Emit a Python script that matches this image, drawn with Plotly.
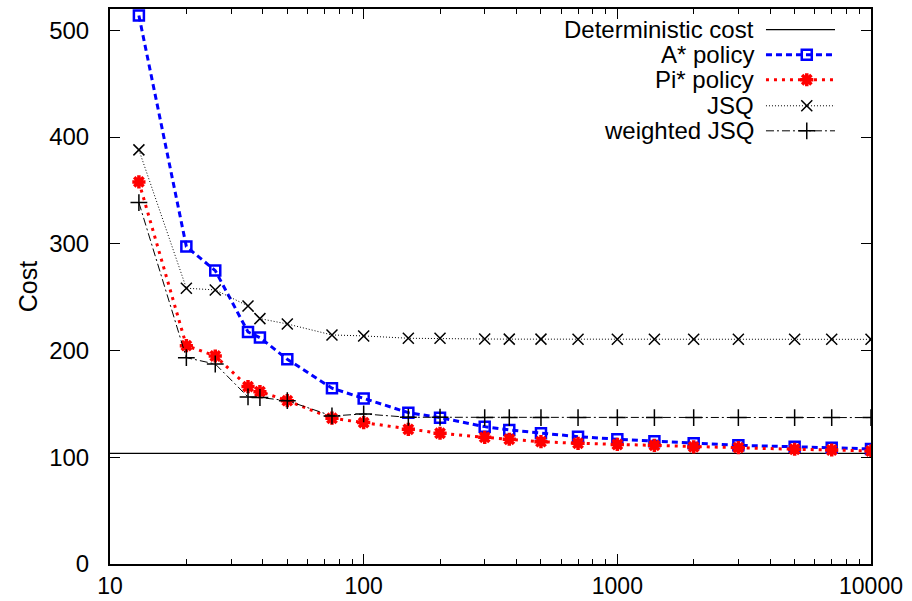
import plotly.graph_objects as go

# ---------------- data ----------------
x_vals = [13, 20, 26, 35, 39, 50, 75, 100, 150, 200, 300, 375, 500, 700,
          1000, 1400, 2000, 3000, 5000, 7000, 10000]

deterministic_cost = 103.7

a_star = [513.9, 297.4, 274.9, 217.4, 212.1, 191.8, 164.7, 155.0, 141.8, 137.1,
          128.7, 125.6, 122.5, 119.3, 116.9, 115.0, 113.1, 111.2, 109.9, 109.0, 107.8]

pi_star = [358.0, 204.6, 194.9, 166.2, 161.5, 153.0, 136.6, 132.5, 126.2, 122.5,
           118.7, 116.9, 114.6, 113.1, 112.0, 111.2, 109.7, 109.0, 107.5, 106.8, 105.9]

jsq = [388.0, 258.4, 256.8, 241.8, 229.9, 224.9, 214.6, 213.7, 211.5, 211.5,
       210.8, 210.7, 210.7, 210.5, 210.5, 210.5, 210.5, 210.5, 210.5, 210.5, 210.5]

weighted_jsq = [338.6, 193.3, 187.4, 156.5, 156.0, 153.0, 138.7, 140.6, 137.5, 137.5,
                137.2, 137.2, 137.2, 137.2, 137.2, 137.2, 137.2, 137.2, 137.2, 137.2, 137.2]

legend_names = ["Deterministic cost", "A* policy", "Pi* policy", "JSQ", "weighted JSQ"]

y_ticks = [0, 100, 200, 300, 400, 500]
x_ticks = [10, 100, 1000, 10000]
x_minor = [m * d for d in (10, 100, 1000) for m in range(2, 10)]

FONT = "Liberation Sans, Arial, Helvetica, sans-serif"

styles = [
    dict(line=dict(color="black", width=1.2), marker=None),
    dict(line=dict(color="#0000ff", width=3, dash="6px,4px"),
         marker=dict(symbol="square-open", size=10, color="#0000ff",
                     line=dict(color="#0000ff", width=2.5))),
    dict(line=dict(color="#ff0000", width=3, dash="3px,5px"),
         marker=dict(symbol="asterisk-open", size=11, color="#ff0000",
                     line=dict(color="#ff0000", width=3.5))),
    dict(line=dict(color="black", width=1, dash="1px,2px"),
         marker=dict(symbol="x-thin-open", size=11, color="black",
                     line=dict(color="black", width=1.5))),
    dict(line=dict(color="black", width=1, dash="8px,3px,2px,3px"),
         marker=dict(symbol="cross-thin-open", size=12, color="black",
                     line=dict(color="black", width=1.5))),
]

fig = go.Figure()

# deterministic cost line
fig.add_trace(go.Scatter(x=[x_ticks[0], x_ticks[-1]],
                         y=[deterministic_cost, deterministic_cost],
                         mode="lines", line=styles[0]["line"],
                         showlegend=False, hoverinfo="skip"))

for ys, st in zip([a_star, pi_star, jsq, weighted_jsq], styles[1:]):
    fig.add_trace(go.Scatter(x=x_vals, y=ys, mode="lines+markers",
                             line=st["line"], marker=st["marker"],
                             showlegend=False))

# ---------------- custom gnuplot-style legend ----------------
text_x = 0.849
samp_x0, samp_xm, samp_x1 = 0.862, 0.9156, 0.9527
row_y = [0.9627, 0.9176, 0.8725, 0.8256, 0.7805]

for name, st, ry in zip(legend_names, styles, row_y):
    fig.add_trace(go.Scatter(x=[samp_x0, samp_x1], y=[ry, ry], mode="lines",
                             line=st["line"], xaxis="x2", yaxis="y2",
                             showlegend=False, hoverinfo="skip"))
    if st["marker"] is not None:
        fig.add_trace(go.Scatter(x=[samp_xm], y=[ry], mode="markers",
                                 marker=st["marker"], xaxis="x2", yaxis="y2",
                                 showlegend=False, hoverinfo="skip"))
    fig.add_annotation(x=text_x, y=ry, xref="paper", yref="paper",
                       text=name, showarrow=False, xanchor="right",
                       yanchor="middle", font=dict(size=24, color="black", family=FONT))

fig.update_layout(
    width=912, height=601,
    margin=dict(l=110, r=41, t=9, b=37),
    paper_bgcolor="white", plot_bgcolor="white",
    font=dict(family=FONT, size=24, color="black"),
    showlegend=False,
    xaxis=dict(
        type="log", range=[1, 4], automargin=False,
        tickvals=x_ticks, ticktext=[str(v) for v in x_ticks],
        ticks="inside", ticklen=10, tickwidth=1.2, tickcolor="black",
        minor=dict(tickvals=x_minor, ticks="inside", ticklen=5, tickwidth=1,
                   tickcolor="black", showgrid=False),
        showline=True, linecolor="black", linewidth=2, mirror="ticks",
        showgrid=False, zeroline=False,
        ticklabelstandoff=0,
        tickfont=dict(size=23, family=FONT),
    ),
    yaxis=dict(
        range=[0, 520], automargin=False,
        tickvals=y_ticks,
        ticks="inside", ticklen=10, tickwidth=1.2, tickcolor="black",
        showline=True, linecolor="black", linewidth=2, mirror="ticks",
        showgrid=False, zeroline=False,
        ticklabelstandoff=14,
        tickfont=dict(size=24, family=FONT),
        title=dict(text="Cost", font=dict(size=25, family=FONT), standoff=4),
    ),
    xaxis2=dict(range=[0, 1], overlaying="x", visible=False, fixedrange=True),
    yaxis2=dict(range=[0, 1], overlaying="y", visible=False, fixedrange=True),
)

fig.write_html("out.html")
